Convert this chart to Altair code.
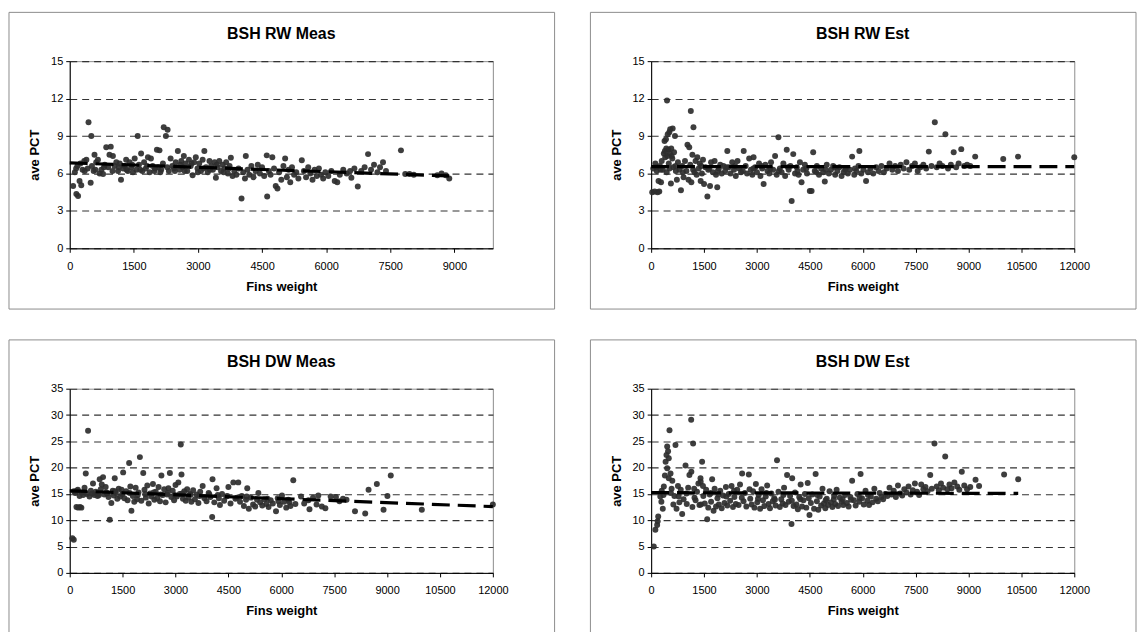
import altair as alt
import pandas as pd

# ---------------- data ----------------
titles = ["BSH RW Meas", "BSH RW Est", "BSH DW Meas", "BSH DW Est"]

rw_meas = [
(80,5.0),(155,4.35),(195,4.2),(230,5.4),(270,5.05),(120,6.1),(180,6.6),(250,6.8),(300,6.3),(340,7.0),
(390,7.1),(420,6.4),(440,10.1),(490,5.25),(505,9.0),(520,6.6),(560,6.2),(580,7.5),(620,6.9),(660,7.1),
(700,6.0),(740,6.3),(780,5.95),(820,6.7),(855,8.1),(900,6.5),(930,7.5),(960,8.15),(1010,7.4),(1050,6.6),
(1090,6.9),(1130,6.2),(1170,6.8),(1200,5.5),(1250,6.4),(1290,6.6),(1320,7.1),(1360,6.2),(1400,6.9),(1440,6.5),
(1480,6.1),(1520,7.2),(1560,6.3),(1590,9.0),(1620,6.7),(1670,7.6),(1700,6.2),(1740,6.9),(1780,6.4),(1830,7.3),
(1870,6.1),(1900,7.2),(1940,6.6),(1980,6.2),(2040,7.9),(2070,6.5),(2100,7.85),(2140,6.3),(2180,6.8),(2200,9.7),
(2250,9.0),(2290,9.5),(2320,6.2),(2360,7.2),(2400,6.6),(2440,6.4),(2480,6.9),(2530,7.8),(2570,6.3),(2610,7.0),
(2640,6.5),(2670,7.4),(2710,6.8),(2750,6.2),(2790,7.1),(2830,6.6),(2875,5.85),(2910,6.9),(2950,7.3),(2990,6.4),
(3030,6.8),(3070,6.2),(3110,7.1),(3150,7.8),(3190,6.5),(3230,6.1),(3270,7.0),(3310,6.6),(3350,6.3),(3390,6.9),
(3420,5.65),(3460,6.5),(3500,7.0),(3540,6.2),(3580,6.7),(3620,6.4),(3660,6.9),(3700,6.0),(3740,6.6),(3770,7.25),
(3810,5.8),(3850,6.2),(3900,5.9),(3950,6.4),(4020,4.0),(4060,6.1),(4100,5.6),(4120,7.4),(4160,6.3),(4200,5.9),
(4250,6.6),(4300,5.7),(4350,6.2),(4400,6.7),(4450,6.0),(4500,6.5),(4550,5.8),(4610,7.45),(4620,4.15),(4660,6.2),
(4700,5.9),(4740,7.3),(4780,6.4),(4820,5.0),(4860,4.8),(4900,6.1),(4950,5.5),(5000,6.6),(5040,7.2),(5080,5.7),
(5120,6.3),(5160,5.3),(5200,6.5),(5250,5.9),(5300,6.1),(5350,5.6),(5430,7.05),(5480,6.2),(5530,5.7),(5580,6.5),
(5630,6.0),(5680,5.5),(5730,6.3),(5780,5.8),(5830,6.4),(5880,5.9),(5930,5.6),(5980,6.1),(6050,5.8),(6120,6.2),
(6200,5.4),(6260,5.3),(6320,5.9),(6400,6.3),(6480,6.0),(6560,6.2),(6590,5.65),(6660,6.4),(6740,4.95),(6820,6.2),
(6900,6.5),(6980,7.55),(7050,6.3),(7120,6.7),(7200,6.1),(7260,6.5),(7330,6.9),(7400,6.2),(7750,7.85),(7850,5.95),
(7950,5.95),(8050,5.9),(8600,5.85),(8700,6.0),(8800,5.85),(8880,5.6),
(150,6.4),(350,6.2),(600,6.3),(800,6.5),(1000,6.2),(1150,6.5),(1330,6.3),(1460,6.7),(1650,6.3),(1810,6.6),
(2000,6.4),(2120,6.1),(2280,6.5),(2460,6.2),(2590,6.7),(2690,6.2),(2850,6.8),(3000,6.1),(3130,6.4),(3280,6.3),
(3440,6.7),(3600,6.1),(3720,6.4),
]

rw_est = [
(30,4.5),(100,4.55),(180,4.5),(230,4.55),(60,6.4),(120,6.8),(160,6.2),(210,5.4),(250,6.6),(280,5.3),
(300,7.0),(330,6.3),(360,7.6),(380,8.6),(400,7.3),(420,8.75),(440,6.1),(450,11.85),(470,9.15),(490,7.9),
(500,6.8),(515,9.3),(540,9.55),(560,5.2),(580,7.4),(610,9.6),(630,6.5),(650,7.7),(675,9.0),(700,6.2),
(730,5.5),(760,6.9),(800,6.3),(845,4.65),(880,6.6),(920,5.7),(960,7.0),(1000,6.2),(1030,8.3),(1060,5.5),
(1080,8.1),(1110,6.7),(1125,11.0),(1140,5.3),(1170,7.5),(1200,9.7),(1230,6.1),(1260,7.0),(1290,5.9),(1310,7.3),
(1350,6.4),(1380,6.8),(1405,5.4),(1440,6.0),(1470,7.1),(1500,5.15),(1540,6.5),(1595,4.15),(1620,6.3),(1670,5.0),
(1700,6.9),(1750,6.1),(1800,7.0),(1840,5.9),(1875,4.9),(1920,6.4),(1960,6.7),(2000,6.0),(2050,6.6),(2100,6.2),
(2160,7.8),(2200,6.5),(2250,6.0),(2300,6.9),(2350,6.3),(2400,5.8),(2450,7.0),(2500,6.4),(2550,6.1),(2625,7.8),
(2680,6.6),(2720,6.0),(2780,7.2),(2830,6.3),(2870,5.9),(2905,7.3),(2950,6.5),(3000,6.1),(3060,6.8),(3100,5.8),
(3150,6.4),(3190,5.15),(3240,6.7),(3300,6.2),(3350,6.0),(3400,6.9),(3460,6.3),(3515,7.4),(3560,5.9),(3610,8.9),
(3650,6.4),(3700,6.1),(3750,6.8),(3800,5.8),(3845,7.9),(3900,6.3),(3950,6.6),(3985,3.8),(4030,7.55),(4080,6.0),
(4130,6.5),(4180,5.9),(4220,6.9),(4265,5.3),(4310,6.3),(4360,6.7),(4420,6.0),(4500,4.6),(4550,4.6),(4595,7.7),
(4640,6.2),(4700,6.6),(4760,5.9),(4820,6.4),(4880,6.1),(4925,5.35),(4980,6.7),(5040,6.0),(5100,6.3),(5160,6.6),
(5220,5.9),(5280,6.2),(5340,6.5),(5400,5.8),(5460,6.1),(5520,6.4),(5580,6.0),(5640,6.3),(5700,7.35),(5760,5.9),
(5820,6.2),(5880,6.6),(5905,7.8),(5960,6.0),(6020,6.3),(6095,5.4),(6150,6.1),(6220,6.4),(6300,6.0),(6380,6.5),
(6450,6.2),(6530,6.6),(6600,6.1),(6680,6.4),(6760,6.8),(6840,6.3),(6920,6.6),(7000,6.2),(7080,6.7),(7160,6.4),
(7240,6.9),(7320,6.3),(7400,6.6),(7480,6.8),(7560,6.2),(7640,6.5),(7720,6.7),(7800,6.4),(7875,7.75),(7950,6.6),
(8045,10.1),(8100,6.5),(8180,6.8),(8260,6.6),(8345,9.15),(8420,6.4),(8500,6.7),(8580,7.7),(8650,6.5),(8720,6.8),
(8795,7.95),(8880,6.6),(8960,6.7),(9050,6.6),(9190,7.35),(9985,7.15),(10405,7.35),(12000,7.3),
(140,6.5),(270,6.3),(520,6.4),(690,6.6),(900,6.1),(1190,6.3),(1420,6.6),(1650,6.4),(1890,6.2),(2130,6.5),
(2380,6.6),(2600,6.2),(2900,6.4),(3130,6.6),(3380,6.4),(3620,6.2),(3880,6.5),(4150,6.2),(4400,6.4),(4680,6.1),
(4950,6.3),(5200,6.5),(5500,6.3),(5780,6.4),(390,7.8),(430,8.0),(460,7.4),(530,7.6),(570,8.0),(600,7.2),
]

dw_meas = [
(75,6.6),(115,6.3),(190,12.5),(240,12.4),(290,12.5),(330,12.4),(120,15.5),(160,15.2),(230,15.8),(280,14.6),
(330,15.3),(380,14.8),(420,16.2),(455,18.9),(490,15.0),(520,27.0),(560,14.5),(600,15.6),(660,17.0),(700,14.8),
(740,15.4),(790,14.6),(850,17.8),(880,15.9),(910,16.8),(945,18.2),(980,14.9),(1020,16.3),(1060,15.1),(1100,14.4),
(1135,10.1),(1180,13.3),(1220,15.6),(1250,14.7),(1277,18.0),(1310,15.2),(1350,14.1),(1390,16.0),(1430,14.5),(1470,15.8),
(1515,19.1),(1550,14.2),(1600,15.5),(1640,13.8),(1685,20.9),(1720,16.4),(1750,11.8),(1790,14.6),(1830,13.5),(1870,16.2),
(1910,14.0),(1950,15.3),(1990,22.0),(2030,13.7),(2085,19.0),(2120,15.8),(2160,14.3),(2200,16.6),(2240,13.2),(2280,15.1),
(2320,14.5),(2360,16.9),(2400,13.9),(2440,15.4),(2480,14.2),(2520,16.3),(2560,13.6),(2600,18.5),(2640,14.8),(2680,15.9),
(2720,13.4),(2760,14.9),(2800,16.1),(2840,19.0),(2880,14.4),(2920,15.6),(2960,13.8),(3000,16.7),(3040,14.5),(3080,17.2),
(3120,15.0),(3150,24.4),(3170,18.7),(3210,14.1),(3250,15.5),(3290,13.7),(3330,15.9),(3370,14.3),(3410,15.0),(3450,13.5),
(3500,15.7),(3550,14.0),(3600,14.9),(3650,13.3),(3700,15.4),(3770,16.5),(3820,14.2),(3880,13.6),(3940,15.2),(3990,14.4),
(4040,10.6),(4050,17.8),(4100,13.4),(4165,16.1),(4200,14.8),(4260,12.9),(4320,15.0),(4380,13.7),(4440,14.5),(4500,16.3),
(4560,13.2),(4640,17.2),(4700,14.1),(4780,17.2),(4830,13.5),(4880,14.6),(4940,12.7),(5000,13.9),(5035,16.1),(5080,12.2),
(5140,14.3),(5200,13.0),(5260,12.6),(5350,15.2),(5400,13.4),(5460,12.8),(5520,14.0),(5580,13.1),(5640,12.5),(5700,13.8),
(5760,13.2),(5850,11.7),(5900,14.2),(5960,12.9),(6020,14.7),(6080,13.5),(6140,12.4),(6200,13.9),(6260,12.7),(6340,17.6),
(6400,13.1),(6560,14.5),(6650,13.2),(6770,13.8),(6800,12.1),(6900,14.3),(7000,13.0),(7050,14.7),(7150,12.6),(7250,12.3),
(7400,14.5),(7550,14.4),(7650,13.6),(7750,14.1),(7850,13.9),(8090,11.7),(8380,11.3),(8475,15.8),(8710,16.9),(8900,12.0),
(9010,14.6),(9105,18.5),(9985,12.0),(12000,13.0),
(200,15.6),(400,15.3),(640,15.1),(830,14.8),(1040,15.3),(1290,15.5),(1490,15.0),(1700,15.2),(1930,14.8),(2140,15.0),
(2380,15.3),(2580,14.9),(2780,15.2),(2980,14.8),(3190,15.1),(3430,14.9),(3680,14.6),(3960,14.9),(4230,14.2),(4470,14.6),
(4740,14.3),(5020,14.5),(5310,13.9),(5610,14.1),(5920,13.6),(6230,13.4),
]

dw_est = [
(75,5.0),(120,8.2),(170,9.1),(185,9.8),(200,10.7),(260,14.5),(290,13.5),(300,15.6),(330,12.2),(360,16.4),
(390,18.5),(410,21.1),(435,22.4),(455,24.0),(455,19.9),(480,23.1),(500,21.8),(500,18.0),(520,27.1),(550,18.9),
(560,15.2),(600,17.5),(630,13.0),(660,14.6),(690,24.3),(720,12.2),(760,16.5),(800,13.4),(840,15.8),(880,11.2),
(920,14.0),(975,20.4),(1010,13.1),(1050,16.2),(1085,18.6),(1135,29.1),(1140,19.2),(1170,12.5),(1190,24.6),(1220,16.0),
(1260,13.8),(1300,15.4),(1340,17.0),(1370,12.9),(1400,18.0),(1405,17.3),(1410,13.0),(1445,21.1),(1480,14.6),(1520,13.2),
(1560,15.8),(1590,10.2),(1620,12.4),(1660,14.9),(1700,13.5),(1730,17.8),(1770,11.8),(1800,16.0),(1840,12.6),(1880,14.2),
(1920,13.0),(1960,15.6),(2000,12.3),(2040,14.7),(2080,13.3),(2120,16.3),(2160,12.8),(2200,15.0),(2240,13.7),(2280,16.5),
(2320,12.5),(2360,14.4),(2400,13.1),(2440,15.8),(2480,12.9),(2520,16.8),(2580,18.9),(2620,13.6),(2660,15.2),(2700,12.6),
(2770,18.7),(2810,14.1),(2850,13.0),(2890,15.5),(2930,12.4),(2970,16.9),(3010,13.4),(3050,14.8),(3090,12.2),(3130,15.9),
(3170,13.8),(3210,12.7),(3250,14.5),(3290,16.6),(3330,13.1),(3370,12.3),(3410,15.1),(3450,13.6),(3490,14.2),(3530,12.8),
(3570,21.4),(3610,15.4),(3650,12.5),(3690,14.0),(3730,13.2),(3770,16.2),(3810,12.9),(3855,18.6),(3900,13.5),(3940,14.6),
(3980,9.3),(4000,18.0),(4040,12.7),(4080,15.3),(4120,13.0),(4160,12.1),(4200,14.4),(4240,16.8),(4280,12.6),(4320,13.8),
(4360,15.0),(4400,12.4),(4440,17.1),(4490,11.0),(4530,13.3),(4570,14.9),(4620,12.2),(4665,18.8),(4700,13.6),(4740,12.0),
(4780,14.5),(4820,12.8),(4860,16.0),(4900,13.2),(4940,12.3),(4980,14.1),(5020,12.9),(5060,15.5),(5100,13.4),(5140,12.5),
(5180,14.0),(5220,13.1),(5260,15.8),(5300,12.7),(5350,14.3),(5400,13.5),(5450,12.9),(5500,14.8),(5550,13.3),(5600,12.6),
(5650,14.4),(5700,17.5),(5750,13.8),(5800,12.8),(5850,15.0),(5900,13.5),(5940,18.8),(5980,14.2),(6030,13.0),(6080,15.6),
(6130,13.7),(6180,12.9),(6230,14.5),(6280,13.4),(6330,16.0),(6380,14.1),(6430,13.6),(6480,15.2),(6530,14.4),(6580,14.0),
(6640,15.0),(6700,14.6),(6760,16.2),(6820,14.9),(6880,15.6),(6940,14.4),(7000,16.6),(7060,15.1),(7120,14.7),(7180,15.9),
(7240,15.3),(7300,16.4),(7360,14.9),(7420,15.7),(7480,17.0),(7540,15.4),(7600,14.8),(7660,16.8),(7720,15.9),(7780,16.3),
(7840,15.5),(7915,18.6),(7960,16.0),(8035,24.6),(8100,16.4),(8160,15.7),(8220,17.0),(8280,16.2),(8340,22.1),(8400,15.9),
(8460,16.8),(8520,16.1),(8600,17.2),(8680,16.4),(8740,15.8),(8810,19.2),(8880,16.6),(8960,15.9),(9050,16.3),(9200,17.7),
(9300,16.5),(10010,18.7),(10410,17.8),
(350,14.8),(580,16.0),(780,14.5),(1000,15.1),(1230,14.3),(1470,16.5),(1690,15.2),(1910,14.9),(2130,14.5),(2350,15.6),
(2570,14.3),(2790,15.9),(3030,14.1),(3270,15.2),(3510,13.9),(3750,14.8),(3990,13.7),(4230,14.0),(4470,14.2),(4710,14.8),
(4950,13.8),(5190,14.6),(5430,14.0),(5670,13.9),(5910,14.3),(6150,14.8),
]

# linear trend-line end points
trend_rw_meas = [(0, 6.85), (8880, 5.8)]
trend_rw_est = [(0, 6.55), (12000, 6.55)]
trend_dw_meas = [(0, 15.6), (12000, 12.6)]
trend_dw_est = [(0, 15.25), (10410, 15.1)]

x_ticks_short = [0, 1500, 3000, 4500, 6000, 7500, 9000]
x_ticks_long = [0, 1500, 3000, 4500, 6000, 7500, 9000, 10500, 12000]
y_ticks_rw = [0, 3, 6, 9, 12, 15]
y_ticks_dw = [0, 5, 10, 15, 20, 25, 30, 35]

FONT = "Liberation Sans"
W = 425


def panel(title, pts, trend, xmax, xticks, yticks, h):
    ymax = yticks[-1]
    df = pd.DataFrame(pts, columns=["x", "y"])
    tr = pd.DataFrame(trend, columns=["x", "y"])
    xs = alt.Scale(domain=[0, xmax], nice=False, zero=True)
    ys = alt.Scale(domain=[0, ymax], nice=False, zero=True)
    xa = alt.Axis(values=xticks, title="Fins weight", grid=False,
                  labelOverlap=False, labelFlush=False, labelBound=False,
                  tickSize=4, labelPadding=8, titlePadding=9, format="d")
    ya = alt.Axis(values=yticks, title="ave PCT", grid=True,
                  labelOverlap=False, labelFlush=False, labelBound=False,
                  gridDash=[7, 5], gridColor="#333333", gridWidth=1.1,
                  tickSize=4, labelPadding=3, titlePadding=9, format="d")
    one = alt.Data(values=[{"k": 1}])

    frame = alt.Chart(one).mark_rect(
        filled=False, stroke="#8c8c8c", strokeWidth=1
    ).encode(
        x=alt.value(-61), x2=alt.value(W + 62),
        y=alt.value(-49), y2=alt.value(h + 61),
    )
    ttl = alt.Chart(one).mark_text(
        text=title, font=FONT, fontSize=16, fontWeight="bold",
        color="black", align="center", baseline="middle",
    ).encode(x=alt.value(W / 2), y=alt.value(-27))

    points = alt.Chart(df).mark_circle(
        size=36, color="#2e2e2e", opacity=0.92
    ).encode(
        x=alt.X("x:Q", scale=xs, axis=xa),
        y=alt.Y("y:Q", scale=ys, axis=ya),
    )
    line = alt.Chart(tr).mark_line(
        color="black", strokeWidth=3.2, strokeDash=[18, 8]
    ).encode(x=alt.X("x:Q", scale=xs, axis=xa),
             y=alt.Y("y:Q", scale=ys, axis=ya))

    return alt.layer(frame, points, line, ttl).properties(width=W, height=h)


p1 = panel(titles[0], rw_meas, trend_rw_meas, 9900, x_ticks_short, y_ticks_rw, 188)
p2 = panel(titles[1], rw_est, trend_rw_est, 12000, x_ticks_long, y_ticks_rw, 188)
p3 = panel(titles[2], dw_meas, trend_dw_meas, 12000, x_ticks_long, y_ticks_dw, 185)
p4 = panel(titles[3], dw_est, trend_dw_est, 12000, x_ticks_long, y_ticks_dw, 185)

chart = alt.vconcat(
    alt.hconcat(p1, p2, spacing=34),
    alt.hconcat(p3, p4, spacing=34),
    spacing=29,
).properties(
    padding={"left": 0, "top": 2, "right": 0, "bottom": 0},
    background="white",
).configure_view(
    stroke="#8c8c8c", strokeWidth=1
).configure_axis(
    labelFont=FONT, labelFontSize=11, labelColor="black",
    titleFont=FONT, titleFontSize=13, titleFontWeight="bold", titleColor="black",
    domainColor="black", domainWidth=1, tickColor="black", tickWidth=1,
)

chart.save("out.html", embed_options={"renderer": "svg", "actions": False})
